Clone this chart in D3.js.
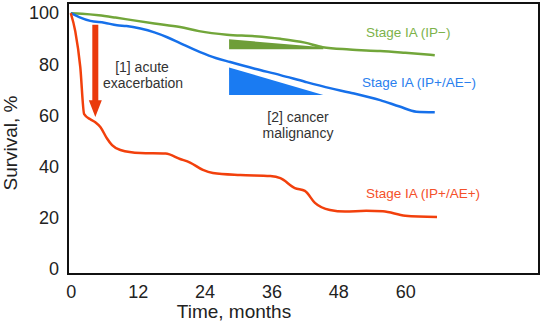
<!DOCTYPE html>
<html>
<head>
<meta charset="utf-8">
<script src="https://cdn.jsdelivr.net/npm/d3@7"></script>
<style>
  body { margin: 0; background: #fff; }
  svg { display: block; font-family: "Liberation Sans", Arial, Helvetica, sans-serif; }
</style>
</head>
<body>
<script>
// Kaplan-Meier style survival curves
var xTicks = [0, 12, 24, 36, 48, 60];
var yTicks = [0, 20, 40, 60, 80, 100];

var greenMonths = [0, 2, 5, 8, 11, 15, 19.6, 23, 28, 33, 37.6, 42, 45.2, 50, 55.5, 60, 65.3];
var greenSurv   = [100, 99.8, 99.2, 98.3, 97.3, 96, 94.6, 93, 91.6, 91, 90, 88.5, 86.7, 85.8, 85.2, 84.5, 83.6];

var blueMonths = [0, 1.5, 3.5, 6, 8.3, 10, 12.5, 15, 17.3, 19.6, 23.2, 26, 28.6, 33, 37.6, 42, 46.5, 50, 55.5, 59, 62, 65.3];
var blueSurv   = [100, 98.5, 97, 96.3, 95.3, 95, 94, 92.5, 90.6, 88.3, 84.8, 82.5, 80.9, 78.3, 75.8, 73.2, 70.7, 69, 66, 63.5, 61.5, 61.3];

var redMonths = [0, 0.8, 1.7, 2.4, 3.5, 4.4, 5.3, 6.5, 7.4, 8.9, 12.5, 17, 19.6, 21.4, 23.7, 25.5, 30.4, 35.8, 37.6, 40.2, 42, 43.8, 46.5, 49.2, 53, 56, 60, 65.7];
var redSurv   = [100, 93, 79, 60.5, 58.5, 57.4, 55.5, 51, 48.4, 46.5, 45.3, 45.1, 43, 41.6, 38.7, 37.5, 36.7, 36.3, 35.5, 31.6, 30.5, 25.8, 23, 22.4, 22.7, 22.5, 20.8, 20.3];

var seriesNames = ["Stage IA (IP\u2212)", "Stage IA (IP+/AE\u2212)", "Stage IA (IP+/AE+)"];

var width = 544, height = 325;
var plotLeft = 68, plotRight = 539, plotTop = 3, plotBottom = 274;

var svg = d3.select("body").append("svg")
    .attr("width", width)
    .attr("height", height);

var x = d3.scaleLinear().domain([-0.5, 84]).range([plotLeft, plotRight]);
var y = d3.scaleLinear().domain([-2, 104]).range([plotBottom, plotTop]);

// frame
svg.append("rect")
    .attr("x", plotLeft).attr("y", plotTop)
    .attr("width", plotRight - plotLeft).attr("height", plotBottom - plotTop)
    .attr("fill", "none").attr("stroke", "#111").attr("stroke-width", 2);

// axes, no tick marks
var xAxis = svg.append("g")
    .attr("transform", "translate(0," + plotBottom + ")")
    .call(d3.axisBottom(x).tickValues(xTicks).tickSize(0).tickPadding(11));
var yAxis = svg.append("g")
    .attr("transform", "translate(" + plotLeft + ",0)")
    .call(d3.axisLeft(y).tickValues(yTicks).tickSize(0).tickPadding(9));
[xAxis, yAxis].forEach(function(a) {
  a.select(".domain").remove();
  a.selectAll("text").attr("font-size", 18).attr("fill", "#222")
    .attr("font-family", "Liberation Sans, Arial, sans-serif");
});

svg.append("text")
    .attr("x", (plotLeft + 400) / 2).attr("y", 318)
    .attr("text-anchor", "middle")
    .attr("font-size", 19).attr("fill", "#222")
    .text("Time, months");

svg.append("text")
    .attr("transform", "translate(17,143) rotate(-90)")
    .attr("text-anchor", "middle")
    .attr("font-size", 19).attr("fill", "#222")
    .text("Survival, %");

// annotation shapes (data units)
var greenWedge = [[28.4, 89.8], [45.3, 86.7], [45.3, 85.9], [28.4, 85.9]];
var blueWedge  = [[28.4, 78.8], [45.3, 68.0], [28.4, 68.0]];

svg.append("path")
    .attr("d", "M" + greenWedge.map(function(p) { return x(p[0]) + "," + y(p[1]); }).join("L") + "Z")
    .attr("fill", "#6e9e38");
svg.append("path")
    .attr("d", "M" + blueWedge.map(function(p) { return x(p[0]) + "," + y(p[1]); }).join("L") + "Z")
    .attr("fill", "#1a7bf2");

// red arrow
var arrowX = 4.4, arrowTop = 95.5, arrowNeck = 66, arrowTip = 59.4;
var ax = x(arrowX);
svg.append("path")
    .attr("d", "M" + (ax - 3) + "," + y(arrowTop) +
               "L" + (ax + 3) + "," + y(arrowTop) +
               "L" + (ax + 3) + "," + y(arrowNeck) +
               "L" + (ax + 6.5) + "," + y(arrowNeck) +
               "L" + ax + "," + y(arrowTip) +
               "L" + (ax - 6.5) + "," + y(arrowNeck) +
               "L" + (ax - 3) + "," + y(arrowNeck) + "Z")
    .attr("fill", "#ea3a0c");

// curves
var line = d3.line()
    .x(function(d) { return x(d[0]); })
    .y(function(d) { return y(d[1]); })
    .curve(d3.curveMonotoneX);

var series = [
  { months: greenMonths, surv: greenSurv, color: "#72a63a" },
  { months: blueMonths,  surv: blueSurv,  color: "#1670ea" },
  { months: redMonths,   surv: redSurv,   color: "#f2400c" }
];

svg.selectAll(".curve")
    .data(series)
  .enter().append("path")
    .attr("class", "curve")
    .attr("fill", "none")
    .attr("stroke", function(d) { return d.color; })
    .attr("stroke-width", 2.5)
    .attr("d", function(d) { return line(d.months.map(function(m, i) { return [m, d.surv[i]]; })); });

// series labels
var labelPos = [[366, 37, "#7cb24a"], [362, 87, "#2a80ee"], [366, 198, "#f4502a"]];
svg.selectAll(".lab")
    .data(seriesNames)
  .enter().append("text")
    .attr("class", "lab")
    .attr("x", function(d, i) { return labelPos[i][0]; })
    .attr("y", function(d, i) { return labelPos[i][1]; })
    .attr("font-size", 13.5)
    .attr("fill", function(d, i) { return labelPos[i][2]; })
    .text(function(d) { return d; });

// annotation text
var notes = [["[1] acute", 142, 72], ["exacerbation", 143, 88], ["[2] cancer", 298, 122], ["malignancy", 298, 138]];
svg.selectAll(".note")
    .data(notes)
  .enter().append("text")
    .attr("class", "note")
    .attr("x", function(d) { return d[1]; })
    .attr("y", function(d) { return d[2]; })
    .attr("text-anchor", "middle")
    .attr("font-size", 14)
    .attr("fill", "#333")
    .text(function(d) { return d[0]; });
</script>
</body>
</html>
